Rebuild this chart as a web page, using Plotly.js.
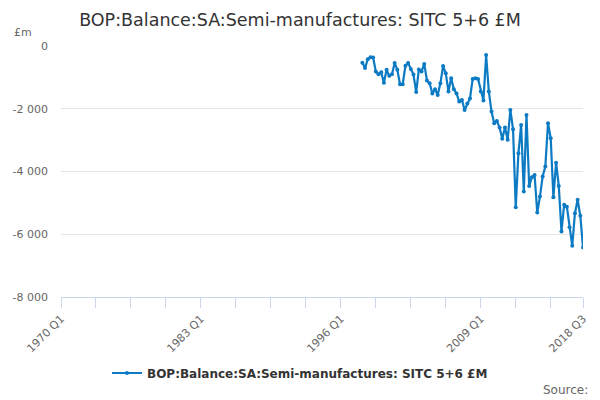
<!DOCTYPE html>
<html>
<head>
<meta charset="utf-8">
<script src="https://cdn.plot.ly/plotly-3.0.1.min.js"></script>
<style>html,body{margin:0;padding:0;background:#fff;}#chart{width:600px;height:400px;}</style>
</head>
<body>
<div id="chart"></div>
<script>
// Category axis: quarters 1970 Q1 .. 2018 Q3
var firstYear = 1970;
var lastYear = 2018;
var lastQuarter = 3;
var quarters = [];
for (var y = firstYear; y <= lastYear; y++) {
  for (var q = 1; q <= 4; q++) {
    if (y === lastYear && q > lastQuarter) break;
    quarters.push(y + ' Q' + q);
  }
}

// Series starts at 1998 Q1
var seriesStart = '1998 Q1';
var seriesName = 'BOP:Balance:SA:Semi-manufactures: SITC 5+6 £M';
var balance = [
  -530, -700, -420, -360, -370, -810, -900, -840, -1170, -760,
  -950, -900, -540, -760, -1220, -1220, -630, -540, -730, -910,
  -1470, -750, -810, -570, -1100, -1190, -1510, -1380, -1560, -1190,
  -640, -870, -1450, -1030, -1380, -1510, -1770, -1720, -2040, -1830,
  -1670, -1050, -1030, -1050, -1450, -1740, -290, -1450, -2090, -2460,
  -2390, -2600, -2960, -2600, -2990, -2040, -2650, -5140, -3420, -2520,
  -4640, -2200, -4460, -4180, -4110, -5310, -4800, -4160, -3840, -2460,
  -2940, -4820, -3720, -4460, -5910, -5060, -5120, -5780, -6370, -5330,
  -4900, -5410, -6420
];

// Tick marks every 13 quarters plus final quarter; labelled ones below
var labelledTicks = ['1970 Q1', '1983 Q1', '1996 Q1', '2009 Q1', '2018 Q3'];
var yTicks = [0, -2000, -4000, -6000, -8000];
var yTickText = ['0', '-2 000', '-4 000', '-6 000', '-8 000'];

var startIdx = quarters.indexOf(seriesStart);
var xs = quarters.slice(startIdx, startIdx + balance.length);

var tickvals = [];
for (var i = 0; i < quarters.length; i += 13) tickvals.push(quarters[i]);
if (tickvals[tickvals.length - 1] !== quarters[quarters.length - 1]) tickvals.push(quarters[quarters.length - 1]);
var ticktext = tickvals.map(function (t) { return labelledTicks.indexOf(t) >= 0 ? t : ''; });

var W = 600, H = 400, mL = 61, mR = 17, mT = 46, mB = 103;
var pw = W - mL - mR, ph = H - mT - mB;
function px(x) { return (x - mL) / pw; }
function py(y) { return (H - mB - y) / ph; }

var trace = {
  type: 'scatter',
  mode: 'lines+markers',
  x: xs,
  y: balance,
  name: seriesName,
  line: { color: '#0c7bc4', width: 2.2 },
  marker: { color: '#0c7bc4', size: 4 },
  hoverinfo: 'x+y'
};

var layout = {
  width: W, height: H,
  margin: { l: mL, r: mR, t: mT, b: mB, pad: 0 },
  paper_bgcolor: '#ffffff',
  plot_bgcolor: '#ffffff',
  font: { family: 'DejaVu Sans, sans-serif', size: 11, color: '#666666' },
  title: {
    text: 'BOP:Balance:SA:Semi-manufactures: SITC 5+6 £M',
    font: { family: 'DejaVu Sans, sans-serif', size: 17.5, color: '#333333' },
    x: 0.5, xanchor: 'center', xref: 'container',
    y: 1 - 20 / H, yanchor: 'middle'
  },
  xaxis: {
    type: 'category',
    categoryorder: 'array',
    categoryarray: quarters,
    range: [0, quarters.length - 1],
    tickmode: 'array',
    tickvals: tickvals,
    ticktext: ticktext,
    tickangle: -45,
    ticks: 'outside',
    ticklen: 10,
    tickwidth: 1,
    tickcolor: '#ccd6eb',
    showline: true,
    linecolor: '#ccd6eb',
    linewidth: 1,
    showgrid: false,
    zeroline: false,
    tickfont: { size: 11, color: '#666666' },
    fixedrange: true
  },
  yaxis: {
    range: [-8000, 0],
    tickmode: 'array',
    tickvals: yTicks,
    ticktext: yTickText,
    showgrid: true,
    gridcolor: '#e6e6e6',
    gridwidth: 1,
    zeroline: false,
    showline: false,
    ticks: '',
    ticklabelstandoff: 12,
    tickfont: { size: 11, color: '#666666' },
    fixedrange: true
  },
  showlegend: true,
  legend: {
    orientation: 'h',
    x: px(300), xanchor: 'center',
    y: py(373), yanchor: 'middle',
    font: { family: 'DejaVu Sans, sans-serif', size: 12, color: '#333333', weight: 'bold' },
    itemwidth: 30
  },
  annotations: [
    { text: '£m', xref: 'paper', yref: 'paper', x: px(12), y: py(32), xanchor: 'left', yanchor: 'middle', showarrow: false, font: { size: 11, color: '#666666' } },
    { text: 'Source:', xref: 'paper', yref: 'paper', x: px(590), y: py(390), xanchor: 'right', yanchor: 'middle', showarrow: false, font: { size: 12, color: '#666666' } }
  ]
};

Plotly.newPlot('chart', [trace], layout, { displayModeBar: false, staticPlot: true });
</script>
</body>
</html>
